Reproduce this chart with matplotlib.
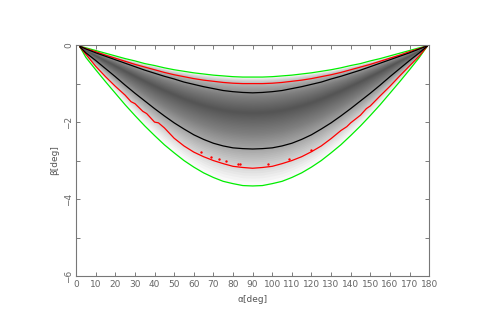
import numpy as np
import matplotlib
matplotlib.use("Agg")
import matplotlib.pyplot as plt

# curve samples (beta in deg, negative down)
alpha = [2, 5, 10, 15, 20, 25, 30, 35, 40, 45, 50, 55, 60, 65, 70, 75, 80, 85, 90,
         95, 100, 105, 110, 115, 120, 125, 130, 135, 140, 145, 150, 155, 160, 165, 170, 175, 179]
green_top = [-0.03, -0.07, -0.14, -0.21, -0.28, -0.35, -0.41, -0.48, -0.53, -0.59, -0.64, -0.68,
             -0.72, -0.75, -0.78, -0.80, -0.82, -0.83, -0.83,
             -0.83, -0.82, -0.80, -0.78, -0.75, -0.72, -0.68, -0.64, -0.59, -0.53, -0.48,
             -0.41, -0.35, -0.28, -0.21, -0.14, -0.07, -0.02]
red_top = [-0.03, -0.09, -0.17, -0.26, -0.34, -0.42, -0.50, -0.57, -0.64, -0.71, -0.77, -0.82,
           -0.87, -0.91, -0.94, -0.97, -0.99, -1.00, -1.00,
           -1.00, -0.99, -0.97, -0.94, -0.91, -0.87, -0.82, -0.77, -0.71, -0.64, -0.57,
           -0.50, -0.42, -0.34, -0.26, -0.17, -0.09, -0.02]
black_top = [-0.03, -0.10, -0.20, -0.29, -0.38, -0.47, -0.56, -0.65, -0.73, -0.81, -0.88, -0.96,
             -1.02, -1.08, -1.13, -1.18, -1.21, -1.23, -1.24,
             -1.23, -1.21, -1.18, -1.13, -1.08, -1.02, -0.96, -0.88, -0.81, -0.73, -0.65,
             -0.56, -0.47, -0.38, -0.29, -0.20, -0.10, -0.02]
black_bot = [-0.05, -0.20, -0.40, -0.61, -0.82, -1.04, -1.25, -1.45, -1.65, -1.84, -2.02, -2.18,
             -2.33, -2.45, -2.55, -2.62, -2.67, -2.69, -2.70,
             -2.69, -2.67, -2.62, -2.55, -2.45, -2.33, -2.18, -2.02, -1.84, -1.65, -1.45,
             -1.25, -1.04, -0.82, -0.61, -0.40, -0.20, -0.03]
green_bot = [-0.05, -0.32, -0.64, -0.95, -1.25, -1.55, -1.83, -2.10, -2.35, -2.59, -2.80, -3.00,
             -3.17, -3.32, -3.44, -3.54, -3.60, -3.65, -3.66,
             -3.65, -3.60, -3.54, -3.44, -3.32, -3.17, -3.00, -2.80, -2.59, -2.35, -2.10,
             -1.83, -1.55, -1.25, -0.95, -0.64, -0.32, -0.03]

# the lower red contour is jagged, so it has its own samples
red_alpha = [2, 6, 10, 15, 20, 25, 28, 30, 34, 36, 40, 42, 45, 50, 55, 60, 65, 70, 75, 80, 85, 90,
             95, 100, 105, 110, 115, 120, 125, 130, 135, 138, 140, 145, 148, 150, 155, 160, 165, 170, 175, 179]
red_bot = [-0.05, -0.30, -0.55, -0.82, -1.07, -1.30, -1.47, -1.52, -1.72, -1.78, -2.00, -2.02, -2.15,
           -2.42, -2.62, -2.78, -2.90, -3.00, -3.08, -3.15, -3.18, -3.20,
           -3.18, -3.15, -3.08, -3.00, -2.90, -2.77, -2.62, -2.43, -2.22, -2.12, -2.02,
           -1.82, -1.65, -1.58, -1.32, -1.07, -0.80, -0.54, -0.28, -0.03]

# stray red points below the contour
dots_alpha = [63.6, 69.0, 72.7, 76.6, 82.5, 83.5, 97.8, 108.8, 119.8]
dots_beta = [-2.79, -2.91, -2.96, -3.02, -3.09, -3.09, -3.08, -2.97, -2.73]

fig = plt.figure(figsize=(4.91, 3.27), dpi=100)
ax = fig.add_axes([0.155, 0.156, 0.719, 0.706])

a = np.array(alpha, dtype=float)
gt, bt, bb, gb = (np.array(v) for v in (green_top, black_top, black_bot, green_bot))
mid = bt + 0.35 * (bb - bt)

# grey density band, darker towards the middle
n = 40
for k in range(n):
    t = k / n
    hi = gt + (t ** 1.4) * (mid - gt)
    lo = gb + (t ** 0.75) * (mid - gb)
    ax.fill_between(a, lo, hi, color="black", alpha=0.025, lw=0)

ax.plot(alpha, green_top, color="#00ee00", lw=0.9)
ax.plot(alpha, green_bot, color="#00ee00", lw=0.9)
ax.plot(alpha, red_top, color="#ff0000", lw=0.9)
ax.plot(red_alpha, red_bot, color="#ff0000", lw=0.9)
ax.plot(alpha, black_top, color="black", lw=0.9)
ax.plot(alpha, black_bot, color="black", lw=0.9)
ax.scatter(dots_alpha, dots_beta, color="#ff0000", s=3, lw=0)

ax.set_xlim(0, 180)
ax.set_ylim(-6, 0)
ax.set_xticks(range(0, 181, 10))
ax.set_yticks(range(-6, 1))
ax.set_yticklabels(["\u22126", "", "\u22124", "", "\u22122", "", "0"])
for lab in ax.get_yticklabels():
    lab.set_rotation(90)
    lab.set_va("center")
ax.tick_params(direction="in", length=3, width=0.6, colors="#666666", labelsize=6.5,
               top=True, right=True, pad=3)
ax.tick_params(axis="y", pad=2)
for s in ax.spines.values():
    s.set_color("#777777")
    s.set_linewidth(0.8)
ax.set_xlabel("\u03b1[deg]", fontsize=6.5, color="#555555", labelpad=4)
ax.set_ylabel("\u03b2[deg]", fontsize=6.5, color="#555555", labelpad=4)

fig.savefig("out.png", dpi=100)
